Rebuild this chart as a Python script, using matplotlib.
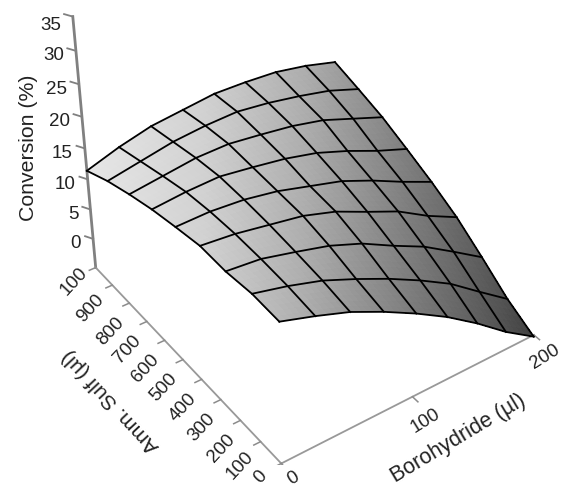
import numpy as np
import matplotlib
matplotlib.use('Agg')
import matplotlib.pyplot as plt
from mpl_toolkits.mplot3d import proj3d

plt.rcParams['font.family'] = ['Liberation Sans', 'DejaVu Sans']

# Grid of the response surface
boro = [0, 25, 50, 75, 100, 125, 150, 175, 200]
sulf = [1000, 875, 750, 625, 500, 375, 250, 125, 0]

# Conversion (%), one row per sulf value, one column per boro value
conv = np.array([
    [11.4, 13.1, 14.4, 15.0, 15.6, 15.5, 15.2, 14.3, 13.0],
    [13.2, 14.2, 15.2, 15.7, 15.9, 15.3, 14.4, 13.3, 11.6],
    [14.6, 15.3, 16.0, 16.1, 15.5, 14.8, 13.7, 11.9, 10.1],
    [15.8, 16.3, 16.5, 15.8, 15.0, 13.8, 12.0, 9.9, 8.1],
    [16.7, 16.8, 16.4, 15.5, 14.1, 12.7, 10.6, 8.2, 6.0],
    [17.5, 17.0, 16.1, 15.2, 13.6, 11.3, 9.1, 6.1, 3.6],
    [17.4, 16.9, 15.6, 14.2, 12.2, 9.5, 7.0, 3.8, 0.5],
    [17.9, 16.6, 15.0, 12.8, 10.4, 7.7, 4.7, 0.9, -2.8],
    [17.7, 16.0, 14.1, 11.6, 8.8, 5.7, 2.1, -1.9, -5.3],
])

conv_ticks = [0, 5, 10, 15, 20, 25, 30, 35]
sulf_ticks = [0, 100, 200, 300, 400, 500, 600, 700, 800, 900, 1000]
sulf_labels = ['0', '100', '200', '300', '400', '500', '600', '700', '800', '900', '100']
boro_ticks = [0, 100, 200]
floor = -5

W, H = 563, 489
fig = plt.figure(figsize=(W/100, H/100), dpi=100)
S, left, bottom = 553.8, 25.7, 23.2
ax = fig.add_axes([left/W, bottom/H, S/W, S/H], projection='3d', computed_zorder=False)
ax.set_xlim(0, 200, view_margin=0)
ax.set_ylim(0, 1000, view_margin=0)
ax.set_zlim(floor, 35, view_margin=0)
ax.view_init(elev=37.594, azim=-125.119)
ax.set_proj_type('persp', focal_length=0.6264)
ax.set_box_aspect((0.7392, 0.8272, 0.7479))
ax.set_axis_off()
ax.patch.set_alpha(0)

# finer mesh only to carry the smooth shading of the cells
n = 6
bi = np.linspace(0, 8, 8*n+1)
si = np.linspace(0, 8, 8*n+1)
conv_f = np.array([np.interp(si, np.arange(9), conv[:, c]) for c in range(9)]).T
conv_f = np.array([np.interp(bi, np.arange(9), row) for row in conv_f])
xf, yf = np.meshgrid(np.interp(bi, np.arange(9), boro), np.interp(si, np.arange(9), sulf))

M = ax.get_proj()
ax.apply_aspect()
px, py, _ = proj3d.proj_transform(xf.ravel(), yf.ravel(), conv_f.ravel(), M)
sx = ax.transData.transform(np.c_[px, py])[:, 0].reshape(xf.shape)
shade = np.interp(sx, [88, 200, 300, 400, 500, 528], [0.90, 0.82, 0.68, 0.50, 0.32, 0.25])
cols = np.stack([shade, shade, shade, np.ones_like(shade)], axis=-1)
ax.plot_surface(xf, yf, conv_f, facecolors=cols, rstride=1, cstride=1, shade=False,
                linewidth=0, antialiased=False, zorder=2)

# black grid on the surface
b_arr = np.array(boro)
s_arr = np.array(sulf)
for r in range(9):
    ax.plot(b_arr, np.full(9, s_arr[r]), conv[r], color='black', lw=1.3, zorder=3)
for c in range(9):
    ax.plot(np.full(9, b_arr[c]), s_arr, conv[:, c], color='black', lw=1.3, zorder=3)

# axis lines
axc = '#8c8c8c'
ax.plot([0, 0], [1000, 1000], [floor, 35], color='#808080', lw=2.0, zorder=1)
ax.plot([0, 0], [0, 1000], [floor, floor], color='#999999', lw=1.3, zorder=1)
ax.plot([0, 200], [0, 0], [floor, floor], color='#999999', lw=1.3, zorder=1)

def screen(x, y, z):
    p = proj3d.proj_transform(x, y, z, M)
    return p[0], p[1]

for z in conv_ticks:
    ax.plot([0, -3], [1000, 1025], [z, z], color='#808080', lw=1.3, zorder=1)
    dy = -8 if z == 35 else -4
    ax.annotate(str(z), xy=screen(0, 1000, z), xytext=(-12, dy), textcoords='offset pixels',
                ha='right', va='center', fontsize=13.5, color='#222222')
sulf_off = {0: (-21, -13), 100: (-21, -23), 900: (-22, -22), 1000: (-22, -13)}
for t, lab in zip(sulf_ticks, sulf_labels):
    ax.plot([0, -5], [t, t], [floor, floor], color=axc, lw=1.1, zorder=1)
    ax.annotate(lab, xy=screen(0, t, floor), xytext=sulf_off.get(t, (-19, -27)), textcoords='offset pixels',
                ha='center', va='center', fontsize=13.5, rotation=47, color='#222222')
boro_off = {0: (12, -14), 100: (13, -23), 200: (11, -21)}
for t in boro_ticks:
    ax.plot([t, t], [0, -25], [floor, floor], color=axc, lw=1.1, zorder=1)
    ax.annotate(str(t), xy=screen(t, 0, floor), xytext=boro_off[t], textcoords='offset pixels',
                ha='center', va='center', fontsize=13.5, rotation=32, color='#222222')

fig.text(29/W, 1-148/H, 'Conversion (%)', rotation=90, ha='center', va='center',
         fontsize=15.3, color='#222222')
fig.text(458/W, 1-439/H, 'Borohydride (µl)', rotation=31, ha='center', va='center',
         fontsize=15.5, color='#222222')
fig.text(111/W, 1-401/H, 'Amm. Sulf (µl)', rotation=133, ha='center', va='center',
         fontsize=15, color='#222222')

fig.savefig('out.png', dpi=100, facecolor='white')
